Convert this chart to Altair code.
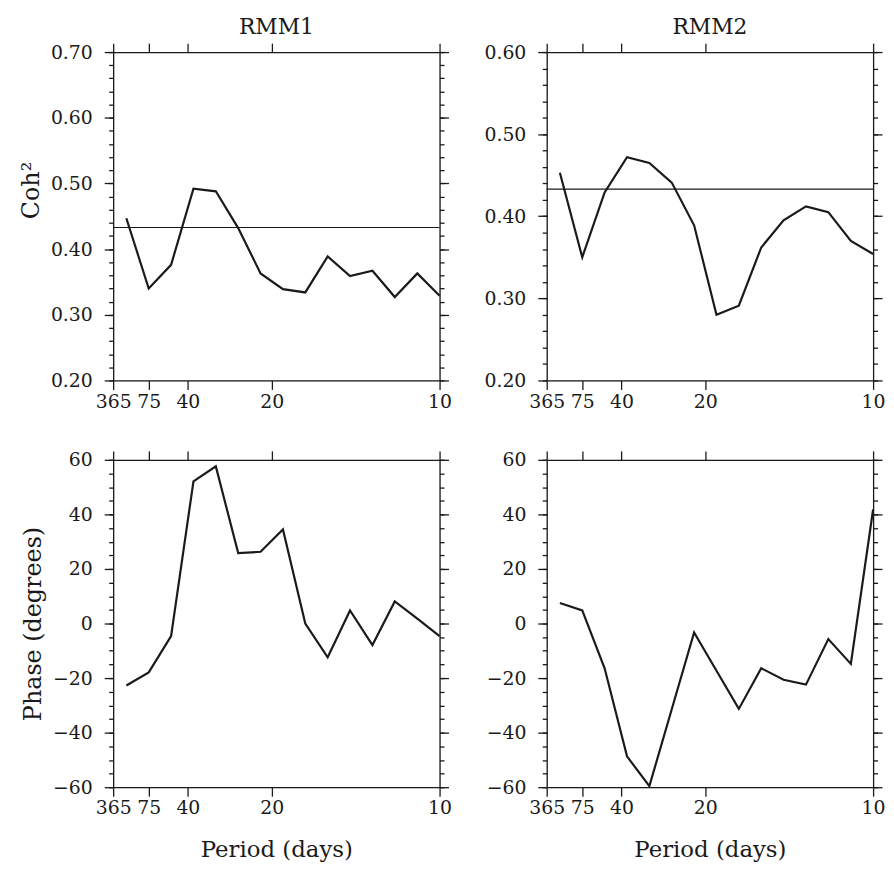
import altair as alt
import pandas as pd

# ---- data ----
periods = [150, 75, 50, 37.5, 30, 25, 21.43, 18.75, 16.67, 15, 13.64, 12.5, 11.54, 10.71, 10]
coh_rmm1 = [0.447, 0.340, 0.376, 0.492, 0.488, 0.432, 0.363, 0.339, 0.334, 0.389, 0.359, 0.367, 0.327, 0.363, 0.329]
coh_rmm2 = [0.453, 0.350, 0.429, 0.472, 0.465, 0.441, 0.389, 0.280, 0.291, 0.362, 0.395, 0.412, 0.405, 0.370, 0.354]
phase_rmm1 = [-22.7, -17.9, -4.6, 52.1, 57.6, 25.8, 26.3, 34.5, 0.0, -12.4, 4.8, -7.9, 8.1, 1.8, -4.6]
phase_rmm2 = [7.5, 4.8, -16.4, -48.7, -59.6, -31.4, -3.3, -17.3, -31.3, -16.4, -20.6, -22.4, -5.7, -14.8, 41.8]
sig_level = 0.433
tick_periods = [365, 75, 40, 20, 10]

coh1_major = [0.2, 0.3, 0.4, 0.5, 0.6, 0.7]
coh1_minor = [round(0.2 + 0.02 * i, 2) for i in range(26)]
coh2_major = [0.2, 0.3, 0.4, 0.5, 0.6]
coh2_minor = [round(0.2 + 0.02 * i, 2) for i in range(21)]
ph_major = [-60, -40, -20, 0, 20, 40, 60]
ph_minor = [-60 + 5 * i for i in range(25)]

INK = "#1a1a1a"
FONT = "DejaVu Serif"
W = 329


def panel(values, ydom, ymajor, yminor, yfmt, height, ytitle=None, ptitle=None,
          xtitle=None, sig=None, ytitle_y=None):
    df = pd.DataFrame({"freq": [1.0 / p for p in periods], "v": values})
    xs = alt.Scale(domain=[1.0 / 365, 1.0 / 10], nice=False, zero=False)
    ys = alt.Scale(domain=ydom, nice=False, zero=False)
    xt = [1.0 / p for p in tick_periods]
    common = dict(domainColor=INK, tickColor=INK, domainWidth=1.3, tickWidth=1.3,
                  grid=False, labelFont=FONT, titleFont=FONT, labelColor=INK,
                  titleColor=INK, labelFontSize=19, titleFontSize=24,
                  titleFontWeight="normal")
    nodomain = {k: v for k, v in common.items() if k not in ("domainColor", "domainWidth")}

    xcommon = dict(common)
    xcommon["titleFontSize"] = 23
    xaxis_kw = dict(orient="bottom", values=xt, labelExpr="round(1/datum.value)",
                    tickSize=9, labelPadding=3, labelOverlap=False, labelFlush=False,
                    title=xtitle, titlePadding=21, **xcommon)
    yaxis_kw = dict(orient="left", values=ymajor, format=yfmt, tickSize=9,
                    labelPadding=12, title=ytitle, titlePadding=7, **common)
    if ytitle_y is not None:
        yaxis_kw["titleY"] = ytitle_y

    base = alt.Chart(df)
    main = base.mark_line(color=INK, strokeWidth=2.2).encode(
        x=alt.X("freq:Q", scale=xs, axis=alt.Axis(**xaxis_kw)),
        y=alt.Y("v:Q", scale=ys, axis=alt.Axis(**yaxis_kw)),
    )
    ghost = base.mark_line(strokeOpacity=0)
    left_minor = ghost.encode(
        x=alt.X("freq:Q", scale=xs, axis=None),
        y=alt.Y("v:Q", scale=ys, axis=alt.Axis(orient="left", values=yminor, labels=False,
                                                tickSize=4.5, domain=False, title=None, **nodomain)),
    )
    top_right = ghost.encode(
        x=alt.X("freq:Q", scale=xs, axis=alt.Axis(orient="top", values=xt, labels=False,
                                                   tickSize=9, title=None, **common)),
        y=alt.Y("v:Q", scale=ys, axis=alt.Axis(orient="right", values=ymajor, labels=False,
                                                tickSize=9, title=None, **common)),
    )
    right_minor = ghost.encode(
        x=alt.X("freq:Q", scale=xs, axis=None),
        y=alt.Y("v:Q", scale=ys, axis=alt.Axis(orient="right", values=yminor, labels=False,
                                                tickSize=4.5, domain=False, title=None, **nodomain)),
    )
    layers = [main, left_minor, top_right, right_minor]
    if sig is not None:
        rule = alt.Chart(pd.DataFrame({"s": [sig]})).mark_rule(color=INK, strokeWidth=1.1).encode(
            y=alt.Y("s:Q", scale=ys, axis=None)
        )
        layers.append(rule)
    ch = alt.layer(*layers).resolve_axis(x="independent", y="independent")
    props = dict(width=W, height=height)
    if ptitle is not None:
        props["title"] = alt.TitleParams(ptitle, font=FONT, fontSize=22, fontWeight="normal",
                                         color=INK, offset=4)
    return ch.properties(**props)


p1 = panel(coh_rmm1, [0.2, 0.7], coh1_major, coh1_minor, ".2f", 331,
           ytitle="Coh²", ptitle="RMM1", sig=sig_level, ytitle_y=139)
p2 = panel(coh_rmm2, [0.2, 0.6], coh2_major, coh2_minor, ".2f", 331,
           ptitle="RMM2", sig=sig_level)
p3 = panel(phase_rmm1, [-60, 60], ph_major, ph_minor, "d", 330,
           ytitle="Phase (degrees)", xtitle="Period (days)")
p4 = panel(phase_rmm2, [-60, 60], ph_major, ph_minor, "d", 330,
           xtitle="Period (days)")

chart = alt.concat(p1, p2, p3, p4, columns=2, spacing={"row": 80, "column": 108},
                   bounds="flush").properties(
    padding={"left": 11, "top": 3, "right": 0, "bottom": 0}
).configure_view(stroke="transparent").configure(background="white")

chart.save("out.html", embed_options={"renderer": "svg", "actions": False})
